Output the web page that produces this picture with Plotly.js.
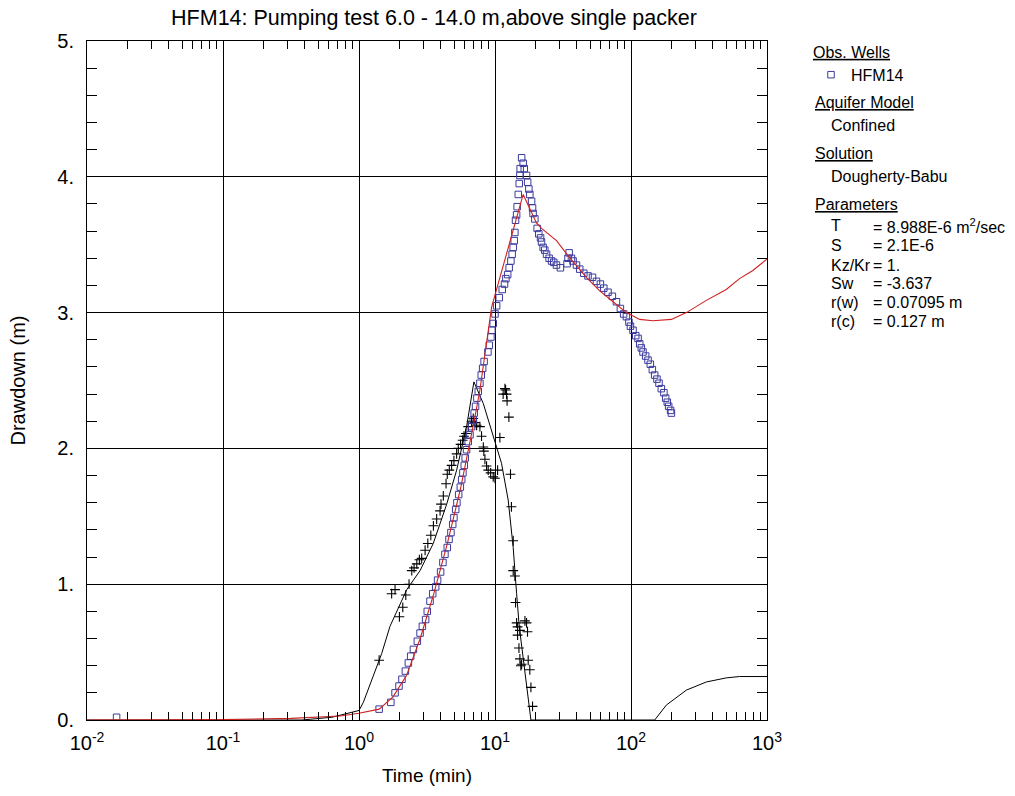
<!DOCTYPE html>
<html>
<head>
<meta charset="utf-8">
<script src="https://cdn.plot.ly/plotly-3.0.1.min.js"></script>
<style>html,body{margin:0;padding:0;background:#fff}#chart{width:1015px;height:796px}</style>
</head>
<body>
<div id="chart"></div>
<script>
// ---- Observed drawdown, HFM14 (squares) ----
const obsTime = [0.0165,1.406,1.714,1.841,1.968,2.070,2.193,2.307,2.399,2.512,2.685,2.812,2.924,3.090,3.177,3.327,3.483,3.664,3.784,3.981,4.140,4.285,4.457,4.592,4.742,4.887,4.989,5.140,5.248,5.408,5.559,5.689,5.808,5.943,6.039,6.180,6.353,6.546,6.730,6.918,7.031,7.194,7.362,7.534,7.745,7.925,8.110,8.318,8.872,9.078,9.333,9.484,9.705,10.0,10.28,10.74,11.30,11.75,12.02,12.39,12.71,13.09,13.37,13.61,13.84,14.00,14.16,14.42,14.55,14.83,15.07,15.24,15.31,15.70,16.11,16.41,17.06,17.38,17.74,18.03,18.58,18.88,19.05,19.63,20.42,20.99,21.63,21.98,22.59,23.23,23.93,25.00,26.06,27.04,28.31,30.27,33.88,34.43,35.08,36.48,37.50,39.72,41.98,44.98,48.31,52.12,55.72,59.57,63.10,67.76,72.95,78.16,83.56,88.31,92.47,96.61,99.08,103.5,108.4,112.7,115.9,119.1,122.5,128.2,133.4,138.7,143.5,149.3,155.2,160.7,167.1,174.6,179.9,184.9,189.2,195.4,198.2];
const obsDrawdown = [0.02,0.08,0.13,0.20,0.25,0.30,0.36,0.42,0.47,0.52,0.58,0.64,0.69,0.74,0.80,0.875,0.93,0.98,1.03,1.09,1.16,1.22,1.27,1.33,1.38,1.44,1.49,1.55,1.60,1.66,1.715,1.77,1.82,1.875,1.93,1.99,2.05,2.10,2.16,2.21,2.26,2.31,2.37,2.42,2.48,2.54,2.59,2.64,2.71,2.76,2.82,2.87,2.92,2.99,3.05,3.11,3.17,3.21,3.25,3.28,3.33,3.38,3.43,3.48,3.53,3.59,3.68,3.72,3.78,3.87,3.95,4.01,4.06,4.14,4.10,4.06,4.01,3.96,3.91,3.87,3.82,3.77,3.73,3.69,3.62,3.58,3.55,3.52,3.48,3.46,3.43,3.40,3.38,3.37,3.35,3.33,3.36,3.40,3.44,3.40,3.38,3.35,3.32,3.29,3.27,3.26,3.23,3.21,3.18,3.15,3.12,3.08,3.03,2.99,2.97,2.93,2.90,2.87,2.83,2.81,2.77,2.74,2.71,2.68,2.65,2.62,2.58,2.54,2.51,2.48,2.44,2.41,2.37,2.34,2.31,2.28,2.26];

// ---- Dougherty-Babu fit for HFM14 (red line) ----
const fitTime = [0.01,0.1,0.316,0.726,1.0,1.406,1.778,2.239,2.818,3.548,4.467,5.623,7.079,7.745,9.441,16.11,20.18,21.98,28.31,34.43,46.99,58.88,73.79,92.47,115.9,144.9,198.2,255.3,358.1,501.2,628.1,787.0,986.3,1000];
const fitDrawdown = [0.0,0.003,0.012,0.03,0.05,0.08,0.17,0.33,0.60,0.93,1.30,1.72,2.22,2.43,3.04,3.87,3.66,3.62,3.53,3.42,3.26,3.16,3.08,3.00,2.95,2.94,2.95,3.00,3.09,3.17,3.25,3.31,3.39,3.40];

// ---- Second well data (crosses) ----
const crossTime = [1.406,1.738,1.841,1.982,2.099,2.208,2.333,2.443,2.541,2.661,2.780,2.891,3.062,3.206,3.373,3.524,3.724,3.945,4.009,4.169,4.365,4.457,4.613,4.797,4.989,5.224,5.370,5.585,5.781,5.916,6.109,6.353,6.730,6.918,7.112,7.328,7.745,7.962,8.204,8.279,8.433,8.670,8.913,9.290,9.705,10.0,10.45,10.86,11.48,11.83,11.97,12.16,12.27,12.65,13.00,13.21,13.61,13.61,14.00,14.16,14.42,14.66,15.24,16.60,17.06,17.34,14.66,15.00,15.24,15.70,15.49,17.54,18.03,18.37,18.88];
const crossDrawdown = [0.44,0.93,0.96,0.76,0.83,0.92,1.00,1.10,1.12,1.15,1.18,1.19,1.25,1.30,1.36,1.43,1.48,1.54,1.59,1.65,1.74,1.81,1.84,1.875,1.91,1.96,2.00,2.03,2.06,2.09,2.11,2.16,2.20,2.22,2.19,2.17,2.16,2.09,2.01,1.98,1.92,1.87,1.84,1.82,1.79,1.78,1.84,2.08,2.40,2.44,2.43,2.40,2.35,2.23,1.81,1.57,1.32,1.10,1.06,0.865,0.715,0.686,0.66,0.73,0.715,0.65,0.625,0.53,0.45,0.41,0.40,0.44,0.37,0.24,0.10];

// ---- Model curve for second well (black line) ----
const modelTime = [0.01,0.380,0.631,1.0,1.076,1.276,1.469,1.690,1.945,2.244,2.812,3.516,4.416,5.224,6.180,6.998,8.204,9.705,11.17,12.50,13.61,14.42,15.07,18.37,149.3,182.0,255.3,358.1,501.2,628.1,1000];
const modelDrawdown = [0.0,0.0,0.02,0.07,0.13,0.32,0.49,0.69,0.83,0.96,1.10,1.30,1.59,1.84,2.16,2.49,2.33,2.08,1.89,1.62,1.27,0.93,0.69,0.0,0.0,0.11,0.22,0.28,0.31,0.32,0.32];

// ---- Axis ticks ----
const xTickVals = [0.01,0.1,1,10,100,1000];
const xTickText = ['10<sup>-2</sup>','10<sup>-1</sup>','10<sup>0</sup>','10<sup>1</sup>','10<sup>2</sup>','10<sup>3</sup>'];
const yTickVals = [0,1,2,3,4,5];
const yTickText = ['0.','1.','2.','3.','4.','5.'];

// ---- Side panel text ----
const obsWellName = 'HFM14';
const panelHeaders = ['Aquifer Model','Solution','Parameters'];
const panelValues = ['Confined','Dougherty-Babu'];
const paramNames = ['T','S','Kz/Kr','Sw','r(w)','r(c)'];
const paramValues = ['= 8.988E-6 m<sup>2</sup>/sec','= 2.1E-6','= 1.','= -3.637','= 0.07095 m','= 0.127 m'];

const FONT = 'Liberation Sans, Arial, Helvetica, sans-serif';
const L = 87, R = 248, T = 41, B = 76, W = 1015, H = 796;
const pw = W - L - R, ph = H - T - B;
const px = x => (x - L) / pw;
const py = y => (H - B - y) / ph;

const traces = [
  {x: modelTime, y: modelDrawdown, mode: 'lines', line: {color: '#000000', width: 1}, showlegend: false, hoverinfo: 'skip'},
  {x: crossTime, y: crossDrawdown, mode: 'markers', marker: {symbol: 'cross-thin-open', size: 7, color: '#000000', line: {color: '#000000', width: 1.1}}, showlegend: false},
  {x: obsTime, y: obsDrawdown, mode: 'markers', name: obsWellName, marker: {symbol: 'square-open', size: 6.5, color: '#3a3a9e', line: {color: '#3a3a9e', width: 1}}, showlegend: true},
  {x: fitTime, y: fitDrawdown, mode: 'lines', line: {color: '#d02020', width: 1.1}, showlegend: false, hoverinfo: 'skip'}
];

const ann = [];
const headerY = [102.7, 154, 204];
panelHeaders.forEach((t, i) => ann.push({text: '<u>' + t + '</u>', x: px(813), y: py(headerY[i]), xanchor: 'left', yanchor: 'middle'}));
const valueY = [125.3, 176.7];
panelValues.forEach((t, i) => ann.push({text: t, x: px(829), y: py(valueY[i]), xanchor: 'left', yanchor: 'middle'}));
const paramY = [225.7, 245.7, 265.7, 283.3, 302.3, 321.7];
paramNames.forEach((t, i) => {
  ann.push({text: t, x: px(829), y: py(paramY[i]), xanchor: 'left', yanchor: 'middle'});
  ann.push({text: paramValues[i], x: px(871), y: py(paramY[i]), xanchor: 'left', yanchor: 'middle'});
});
ann.forEach(a => { a.xref = 'paper'; a.yref = 'paper'; a.showarrow = false; a.font = {family: FONT, size: 16, color: '#000'}; });

const layout = {
  width: W, height: H,
  margin: {l: L, r: R, t: T, b: B},
  paper_bgcolor: '#ffffff', plot_bgcolor: '#ffffff',
  font: {family: FONT, size: 16, color: '#000000'},
  title: {text: 'HFM14: Pumping test 6.0 - 14.0 m,above single packer', font: {family: FONT, size: 21.5, color: '#000'}, x: px(434), xref: 'paper', xanchor: 'center', y: 1 - 17 / H, yref: 'container', yanchor: 'middle'},
  xaxis: {
    type: 'log', range: [-2, 3], tickvals: xTickVals, ticktext: xTickText,
    tickfont: {family: FONT, size: 20, color: '#000'},
    ticks: 'inside', ticklen: 10, tickcolor: '#000', tickwidth: 1,
    showline: true, linecolor: '#000', linewidth: 1, mirror: 'ticks',
    showgrid: true, gridcolor: '#000', gridwidth: 1, zeroline: false,
    minor: {ticks: 'inside', ticklen: 8, tickcolor: '#000', tickwidth: 1, dtick: 'D1', showgrid: false},
    ticklabelstandoff: 5,
    title: {text: 'Time (min)', font: {family: FONT, size: 19, color: '#000'}, standoff: 15},
    automargin: false
  },
  yaxis: {
    range: [0, 5], tickvals: yTickVals, ticktext: yTickText,
    tickfont: {family: FONT, size: 20, color: '#000'},
    ticks: 'inside', ticklen: 14, tickcolor: '#000', tickwidth: 1,
    showline: true, linecolor: '#000', linewidth: 1, mirror: 'ticks',
    showgrid: true, gridcolor: '#000', gridwidth: 1, zeroline: false,
    minor: {ticks: 'inside', ticklen: 10, tickcolor: '#000', tickwidth: 1, dtick: 0.2, showgrid: false},
    ticklabelstandoff: 8,
    title: {text: 'Drawdown (m)', font: {family: FONT, size: 20, color: '#000'}, standoff: 26},
    automargin: false
  },
  showlegend: true,
  legend: {
    x: px(811), y: py(37), xanchor: 'left', yanchor: 'top', xref: 'paper', yref: 'paper',
    bgcolor: 'rgba(0,0,0,0)', borderwidth: 0,
    font: {family: FONT, size: 16, color: '#000'},
    title: {text: '<u>Obs. Wells</u>', font: {family: FONT, size: 16, color: '#000'}},
    itemwidth: 30, tracegroupgap: 0
  },
  annotations: ann
};

Plotly.newPlot('chart', traces, layout, {displayModeBar: false, staticPlot: true});
</script>
</body>
</html>
